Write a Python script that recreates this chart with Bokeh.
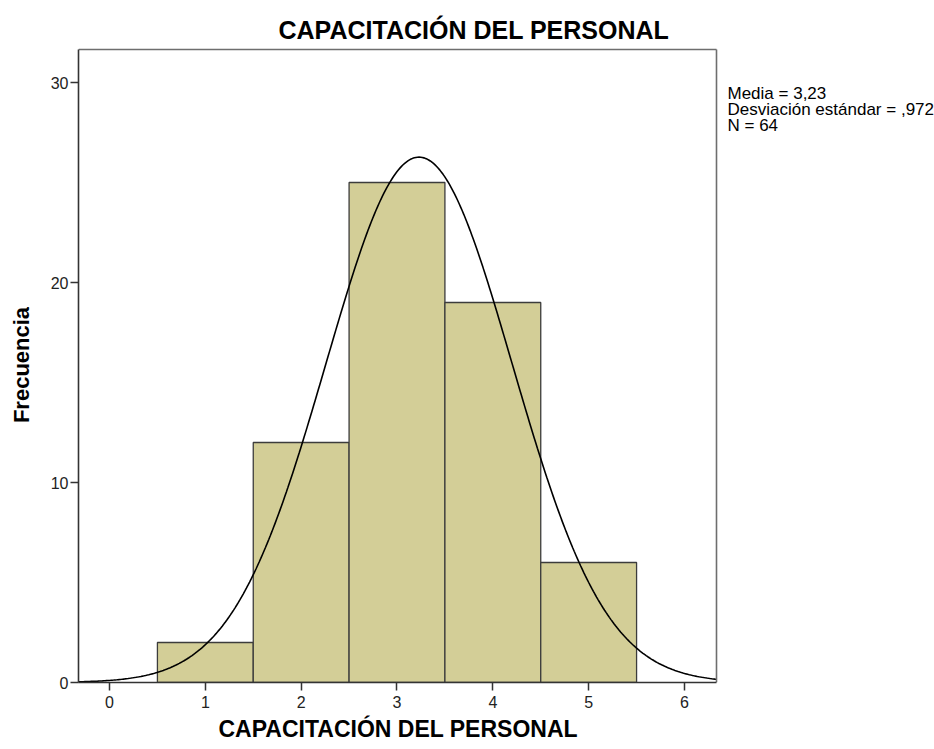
import numpy as np
from bokeh.plotting import figure
from bokeh.models import Range1d, FixedTicker, Label, ColumnDataSource, Title
from bokeh.embed import file_html
from bokeh.resources import INLINE

# ---- data ----
categories = [1, 2, 3, 4, 5]
frequencies = [2, 12, 25, 19, 6]
x_ticks = [0, 1, 2, 3, 4, 5, 6]
y_ticks = [0, 10, 20, 30]
media = 3.23
desviacion = 0.972
n_total = 64
bin_width = 1.0
stats_lines = ["Media = 3,23", "Desviación estándar = ,972", "N = 64"]
title_text = "CAPACITACIÓN DEL PERSONAL"
x_label = "CAPACITACIÓN DEL PERSONAL"
y_label = "Frecuencia"

# axis extents of the boxed chart area
x_box = (-0.3235, 6.334)
y_box = (0, 31.65)

FONT = "Liberation Sans"
W, H = 934, 749
LEFT, TOP, BOTTOM = 78, 47, 682
box_px = 716 - LEFT
frame_w = W - LEFT
x_end = x_box[0] + frame_w * (x_box[1] - x_box[0]) / box_px
y_end = y_box[1] + (49 - TOP) * (y_box[1] - y_box[0]) / (BOTTOM - 49)

p = figure(width=W, height=H, output_backend="svg", toolbar_location=None,
           x_range=Range1d(x_box[0], x_end), y_range=Range1d(y_box[0], y_end),
           min_border_left=LEFT, min_border_right=0, min_border_top=TOP,
           min_border_bottom=H - BOTTOM)

# bars
src = ColumnDataSource(dict(
    left=[c - bin_width / 2 for c in categories],
    right=[c + bin_width / 2 for c in categories],
    top=frequencies,
    bottom=[0] * len(categories),
))
p.quad(left="left", right="right", top="top", bottom="bottom", source=src,
       fill_color="#D3CE97", line_color="#3c3c3c", line_width=1.3)

# fitted normal curve
xs = np.linspace(x_box[0], x_box[1], 400)
ys = n_total * bin_width / (desviacion * np.sqrt(2 * np.pi)) * np.exp(-0.5 * ((xs - media) / desviacion) ** 2)
p.line(xs, ys, line_color="black", line_width=1.6)

# box border (top and right)
p.segment(x0=[x_box[0], x_box[1]], y0=[y_box[1], y_box[0]],
          x1=[x_box[1], x_box[1]], y1=[y_box[1], y_box[1]],
          line_color="#6e6e6e", line_width=1.6)

# styling
p.xgrid.visible = False
p.ygrid.visible = False
p.outline_line_color = None
p.background_fill_color = "white"
p.border_fill_color = "white"

p.xaxis.ticker = FixedTicker(ticks=x_ticks)
p.yaxis.ticker = FixedTicker(ticks=y_ticks)
p.xaxis.bounds = x_box
p.yaxis.bounds = y_box
for ax in (p.xaxis[0], p.yaxis[0]):
    ax.axis_line_color = "#333333"
    ax.axis_line_width = 1.6
    ax.major_tick_line_color = "#333333"
    ax.major_tick_line_width = 1.5
    ax.major_tick_out = 8
    ax.major_tick_in = 0
    ax.minor_tick_out = 0
    ax.minor_tick_in = 0
    ax.major_label_text_font = FONT
    ax.major_label_text_font_size = "16px"
    ax.major_label_text_color = "#222222"
    ax.axis_label_text_font = FONT
    ax.axis_label_text_font_style = "bold"
    ax.axis_label_text_color = "black"

p.xaxis.major_label_standoff = 5

p.yaxis.axis_label = y_label
p.yaxis.axis_label_text_font_size = "22px"
p.yaxis.major_label_standoff = 2
p.yaxis.axis_label_standoff = 14

# x-axis title, centred under the boxed area
p.add_layout(Title(text=x_label, align="left", offset=140, text_font=FONT,
                   text_font_size="23px", text_font_style="bold",
                   text_color="black", standoff=7), "below")

# title
p.title.text = title_text
p.title.align = "left"
p.title.offset = 200
p.title.text_font = FONT
p.title.text_font_size = "25px"
p.title.text_font_style = "bold"
p.title.text_color = "black"
p.title.standoff = 7

# statistics text at right
for i, line in enumerate(stats_lines):
    p.add_layout(Label(x=649, y=589 - i * 16, x_units="screen", y_units="screen",
                       text=line, text_font=FONT, text_font_size="17px",
                       text_color="black", text_baseline="alphabetic"))

open("out.html", "w").write(file_html(p, INLINE))
